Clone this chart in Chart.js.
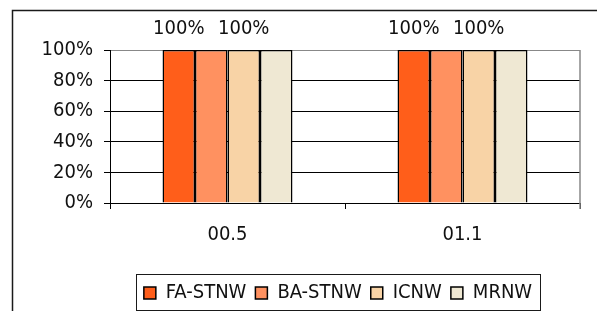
<!DOCTYPE html>
<html><head><meta charset="utf-8">
<script src="https://cdn.jsdelivr.net/npm/chart.js@4/dist/chart.umd.min.js"></script>
<style>html,body{margin:0;padding:0;background:#fff;overflow:hidden}canvas{display:block}</style>
</head><body><canvas id="c" width="597" height="311"></canvas>
<script>
const categories = ['00.5', '01.1'];
const seriesNames = ['FA-STNW', 'BA-STNW', 'ICNW', 'MRNW'];
const faStnw = [100, 100];
const baStnw = [100, 100];
const icnw = [100, 100];
const mrnw = [100, 100];
const yTicks = [0, 20, 40, 60, 80, 100];
const labeledSeries = [0, 2];
const colors = ['#FF5E1A', '#FF9160', '#F8D3A6', '#EFE8D3'];
const FONT = "'DejaVu Sans Condensed', 'DejaVu Sans', sans-serif";
const FS = 20;
const LEG_PAD = 9;

const seriesValues = [faStnw, baStnw, icnw, mrnw];

// shift the legend so it is centred under the plot like the original
const legendShift = {
  id: 'legendShift',
  afterLayout(chart) {
    const lg = chart.legend;
    if (!lg) return;
    lg.left = 79;
    lg.width = lg.right - lg.left;
  }
};

const framePlugin = {
  id: 'frames',
  afterDraw(chart) {
    const ctx = chart.ctx, a = chart.chartArea;
    ctx.save();
    ctx.strokeStyle = '#1a1a1a';
    ctx.lineWidth = 1.5;
    ctx.beginPath();
    ctx.moveTo(12.5, 311); ctx.lineTo(12.5, 10.5); ctx.lineTo(597, 10.5);
    ctx.stroke();
    ctx.strokeStyle = '#888';
    ctx.lineWidth = 1.5;
    ctx.beginPath();
    ctx.moveTo(a.right, a.top); ctx.lineTo(a.right, a.bottom + 6);
    ctx.stroke();
    const lg = chart.legend;
    if (lg && lg.lineWidths) {
      const lw = lg.lineWidths[0];
      const start = ((lg.left + LEG_PAD) + (lg.right - lw)) / 2;
      const end = start + lw - LEG_PAD;
      const cy = lg.top + LEG_PAD + FS / 2;
      ctx.strokeStyle = '#1a1a1a';
      ctx.lineWidth = 1;
      ctx.strokeRect(Math.round(start - 8) + 0.5, Math.round(cy - 19) + 0.5, Math.round(end - start + 16), 36);
    }
    ctx.restore();
  }
};

const valueLabels = {
  id: 'valueLabels',
  afterDatasetsDraw(chart) {
    const ctx = chart.ctx;
    ctx.save();
    ctx.font = FS + 'px ' + FONT;
    ctx.fillStyle = '#111';
    ctx.textAlign = 'center';
    ctx.textBaseline = 'middle';
    labeledSeries.forEach(di => {
      const meta = chart.getDatasetMeta(di);
      meta.data.forEach((bar, i) => {
        ctx.fillText(chart.data.datasets[di].data[i] + '%', bar.x, bar.y - 21);
      });
    });
    ctx.restore();
  }
};

new Chart(document.getElementById('c'), {
  type: 'bar',
  data: {
    labels: categories,
    datasets: seriesNames.map((n, i) => ({
      label: n,
      data: seriesValues[i],
      backgroundColor: colors[i],
      borderColor: '#000',
      borderWidth: 1.5,
      categoryPercentage: 0.553,
      barPercentage: 1.0
    }))
  },
  options: {
    responsive: false,
    animation: false,
    devicePixelRatio: 1,
    layout: { padding: { left: 12, right: 0, top: 50, bottom: -2 } },
    plugins: {
      tooltip: { enabled: false },
      legend: {
        position: 'bottom',
        labels: {
          boxWidth: 12, boxHeight: 12, padding: LEG_PAD,
          color: '#111',
          font: { family: FONT, size: FS }
        }
      }
    },
    scales: {
      x: {
        grid: { display: true, drawOnChartArea: false, drawTicks: true, tickLength: 6, color: '#000', offset: true },
        border: { display: true, color: '#000', width: 1 },
        ticks: { color: '#111', padding: 14, font: { family: FONT, size: FS }, maxRotation: 0 },
        afterFit(s) { s.height = 71; }
      },
      y: {
        min: 0, max: 100,
        afterBuildTicks(s) { s.ticks = yTicks.map(v => ({ value: v })); },
        grid: {
          color: c => (c.tick && c.tick.value === 100) ? '#888' : '#000',
          tickColor: '#000',
          tickLength: 6,
          lineWidth: 1
        },
        border: { display: true, color: '#000', width: 1 },
        ticks: { color: '#111', padding: 11, font: { family: FONT, size: FS }, callback: v => v + '%' },
        afterFit(s) { s.width = 98; }
      },
      yR: {
        position: 'right',
        display: true,
        grid: { display: false },
        border: { display: false },
        ticks: { display: false },
        afterFit(s) { s.width = 17; }
      }
    }
  },
  plugins: [legendShift, framePlugin, valueLabels]
});
</script>
</body></html>
